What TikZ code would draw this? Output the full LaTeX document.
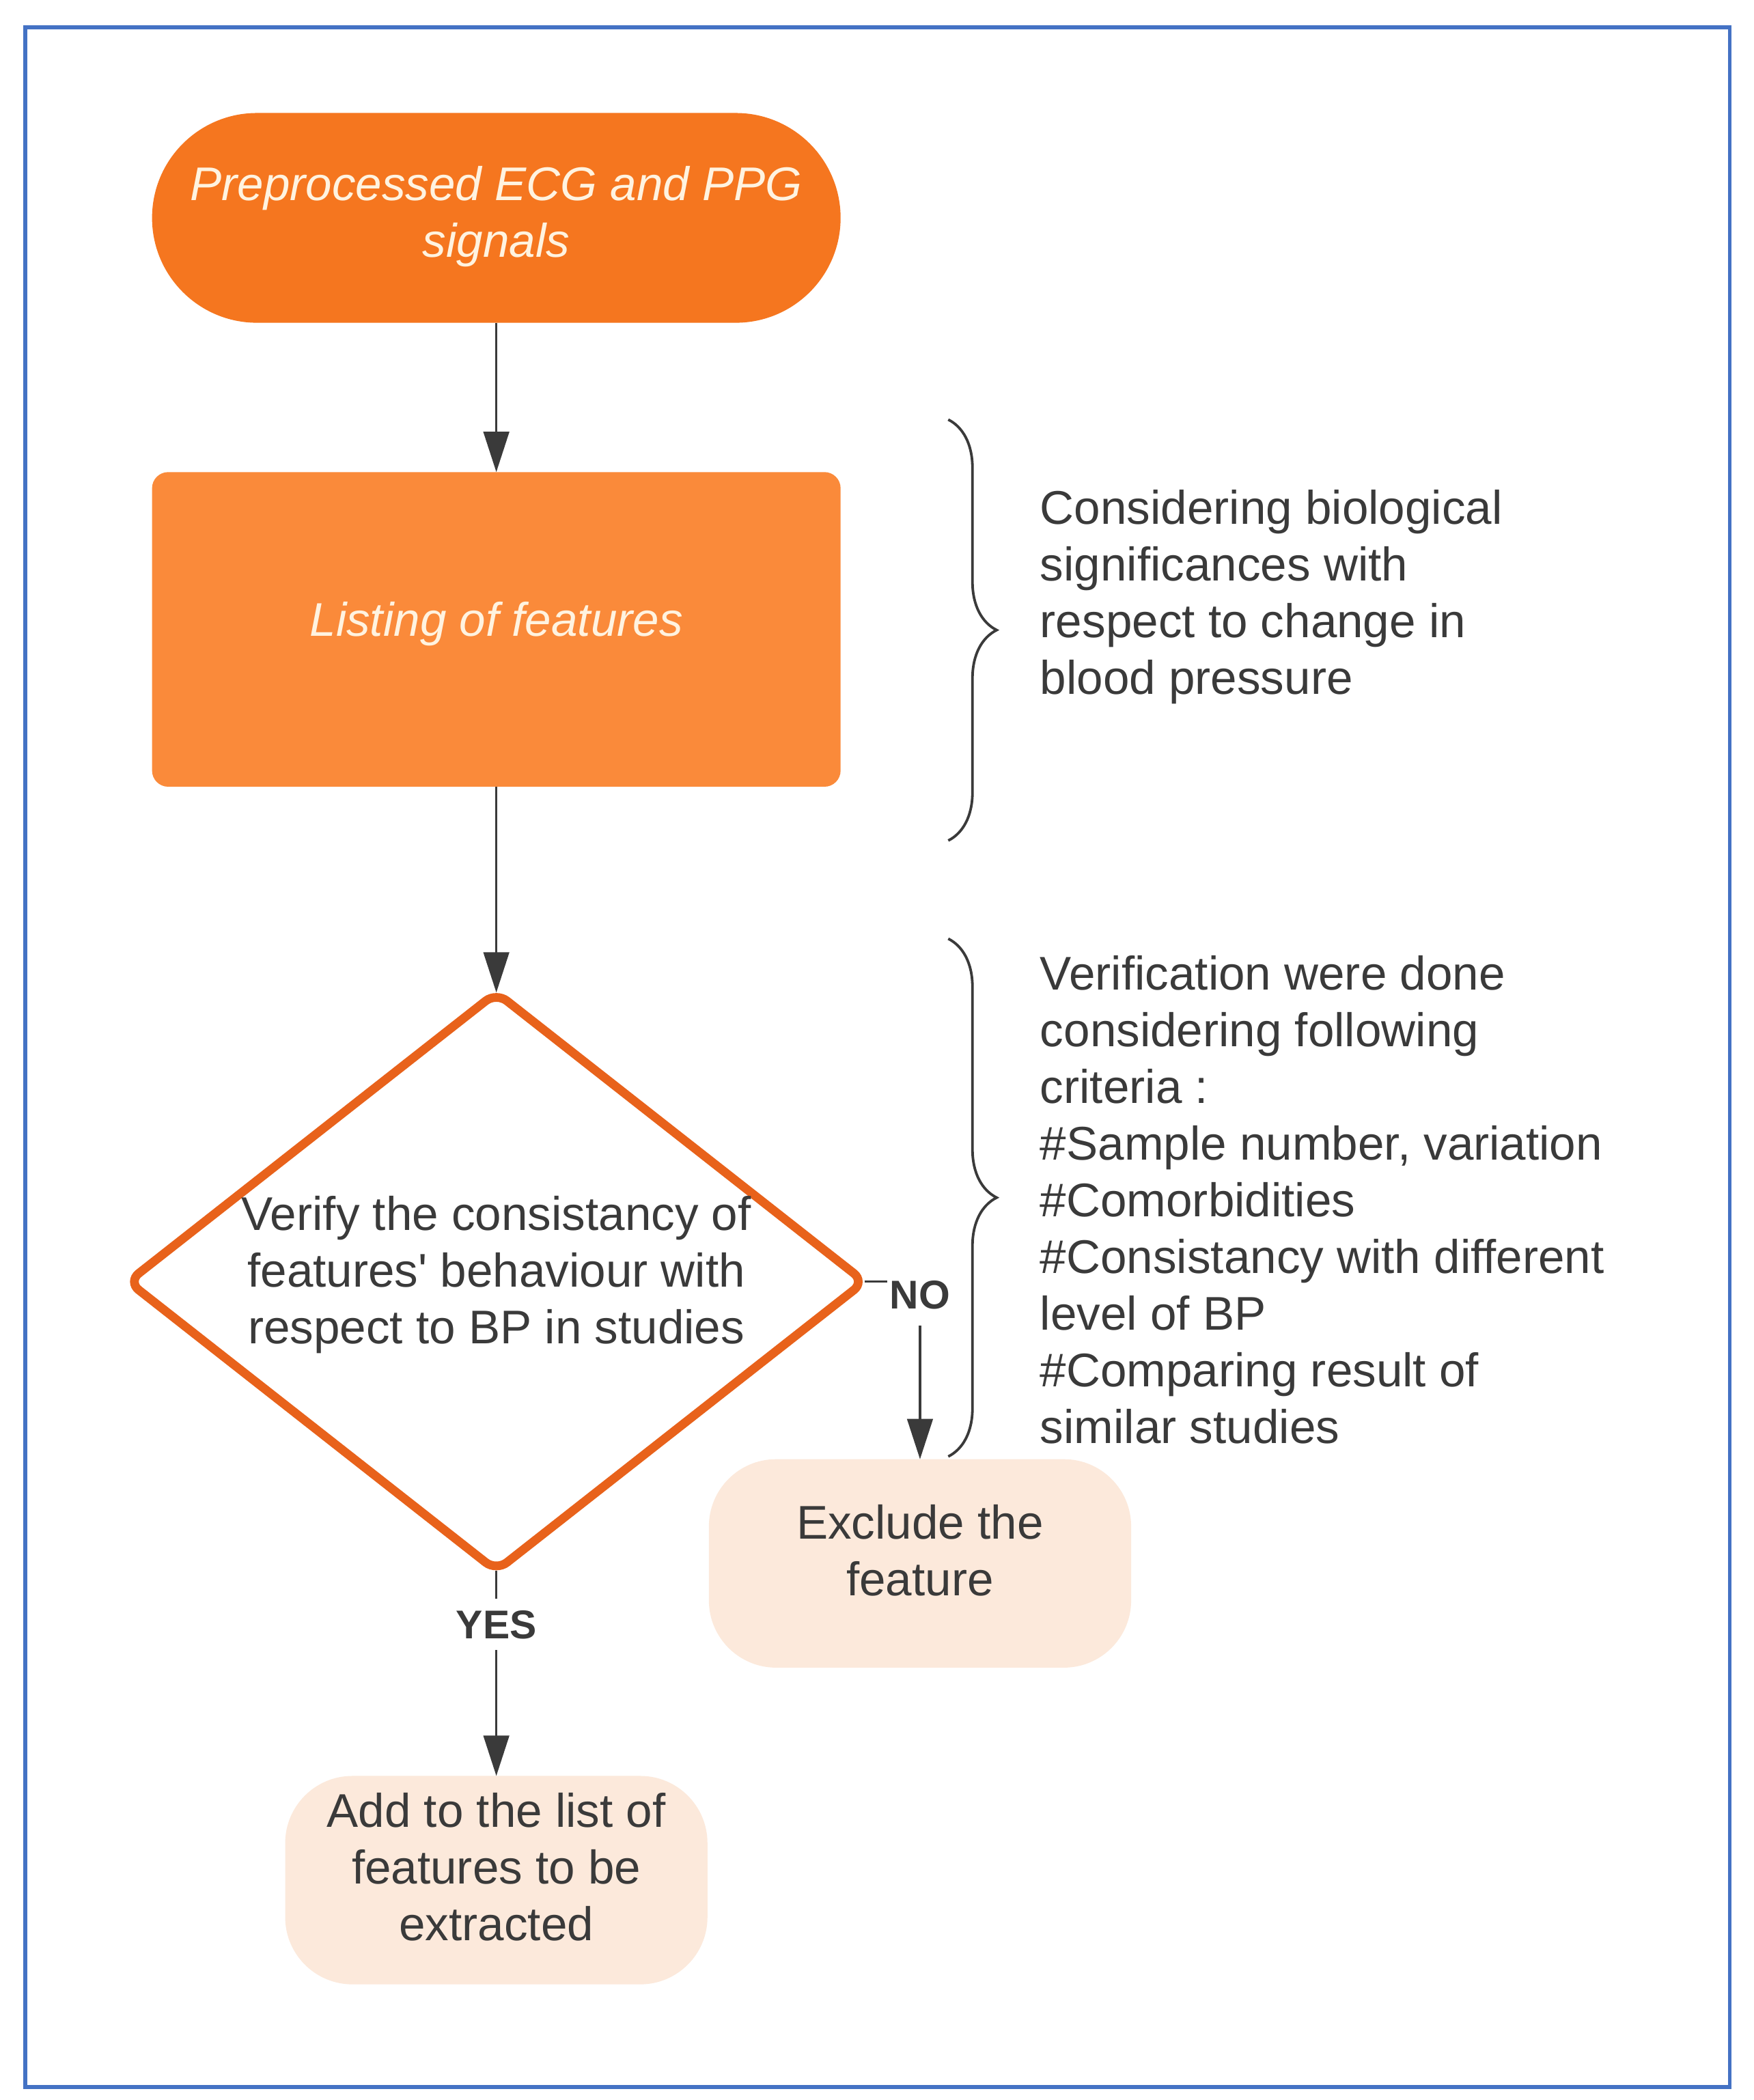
\documentclass[tikz,border=0pt]{standalone}
\usepackage{fontspec}
\setmainfont{Liberation Sans}[Ligatures=TeXOff]
\usetikzlibrary{shapes.geometric,arrows.meta,decorations.pathreplacing}
\definecolor{frameblue}{HTML}{4472C4}
\definecolor{topor}{HTML}{F5761F}
\definecolor{listor}{HTML}{FA8A3A}
\definecolor{diaor}{HTML}{E8621B}
\definecolor{peach}{HTML}{FCE9DB}
\definecolor{txtgray}{HTML}{3A3A3A}
\definecolor{cream}{HTML}{FFF3E0}
\definecolor{linegray}{HTML}{3A3A3A}
\begin{document}
\begin{tikzpicture}[x=0.02cm,y=-0.02cm,
  startbox/.style={fill=topor, draw=none,
    minimum width=10.24cm, minimum height=3.12cm, rounded corners=1.56cm, outer sep=0pt},
  listbox/.style={fill=listor, draw=none,
    minimum width=10.24cm, minimum height=4.68cm, rounded corners=0.24cm, outer sep=0pt},
  inverse/.style={font=\fontsize{20}{24}\selectfont\itshape, text=cream, align=center, inner sep=0pt},
  decision/.style={diamond, draw=diaor, line width=0.13cm, fill=white, minimum width=10.95cm,
    minimum height=8.6cm, rounded corners=0.2cm, outer sep=0pt, inner sep=0pt},
  dectext/.style={font=\fontsize{20}{24}\selectfont, text=txtgray, align=center, inner sep=0pt},
  endbox/.style={fill=peach, draw=none,
    minimum width=6.28cm, minimum height=3.1cm, rounded corners=1cm, outer sep=0pt},
  note/.style={font=\fontsize{20}{24}\selectfont, text=txtgray, align=left, inner sep=0pt},
  lbl/.style={font=\fontsize{17}{20}\selectfont\bfseries, text=txtgray, fill=white, inner xsep=1pt, inner ysep=0pt},
  conn/.style={draw=linegray, line width=1pt, -{Triangle[length=0.6cm,width=0.38cm]}},
  bracestyle/.style={draw=linegray, line width=1.1pt, decorate, decoration={brace, amplitude=0.72cm}}
]
\useasboundingbox (0,0) rectangle (1304,1561.5);
\fill[white] (0,0) rectangle (1304,1561.5);
\draw[frameblue, line width=0.06cm] (19,20.5) rectangle (1286,1552);

\node[startbox] (start) at (369,162) {};
\node[inverse] (starttxt) at (369,161) {Preprocessed ECG and PPG\\signals};

\node[listbox] (list) at (369,468) {};
\node[inverse] (listtxt) at (369,464) {Listing of features};

\node[decision] (dia) at (369,953) {};
\node[dectext] (diatxt) at (369,948) {Verify the consistancy of\\features' behaviour with\\respect to BP in studies};

\node[endbox] (excl) at (684,1162.5) {};
\node[dectext] (excltxt) at (684,1153) {Exclude the\\feature};

\node[endbox] (add) at (369,1398) {};
\node[dectext] (addtxt) at (369,1388) {Add to the list of\\features to be\\extracted};

\draw[conn] (start) -- (list);
\draw[conn] (list) -- (dia.north);
\draw[conn] (dia.east) -| (excl.north);
\draw[conn] (dia.south) -- (add.north);
\node[lbl, minimum height=0.9cm] (no) at (684,963) {NO};
\node[lbl, minimum height=0.76cm] (yes) at (369,1208) {YES};

\draw[bracestyle] (705,312) -- (705,625);
\draw[bracestyle] (705,698) -- (705,1083);

\node[note, anchor=west] (note1) at (773,444) {Considering biological\\significances with\\respect to change in\\blood pressure};
\node[note, anchor=west] (note2) at (773,892) {Verification were done\\considering following\\criteria :\\\#Sample number, variation\\\#Comorbidities\\\#Consistancy with different\\level of BP\\\#Comparing result of\\similar studies};
\end{tikzpicture}
\end{document}
